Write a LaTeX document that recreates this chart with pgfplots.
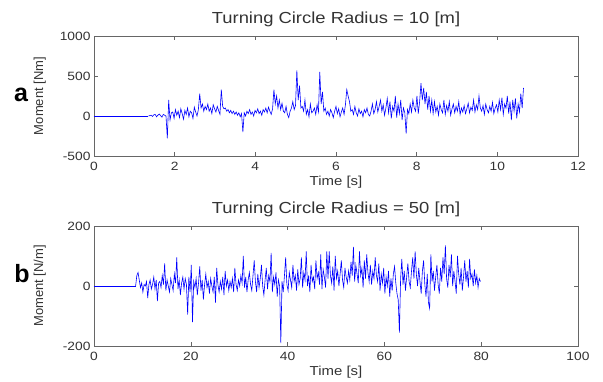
\documentclass[border=0pt]{standalone}
\usepackage{fontspec}
\setmainfont[FakeStretch=1.15]{Liberation Sans}
\newfontfamily\plainfont{Liberation Sans}
\usepackage{pgfplots}
\usepackage{pgfplotstable}
\pgfplotsset{compat=1.18}

\pgfplotstableread[row sep=\\,header=false]{
0\\5\\10\\-5\\15\\20\\-10\\10\\25\\5\\-15\\20\\10\\0\\
-280\\200\\-50\\40\\
50\\-30\\80\\10\\60\\-20\\90\\30\\-40\\70\\20\\100\\-10\\60\\40\\-30\\110\\50\\0\\80\\
280\\100\\150\\60\\
120\\80\\150\\60\\100\\30\\140\\90\\50\\120\\70\\20\\
330\\120\\90\\
100\\60\\80\\40\\70\\30\\60\\20\\50\\10\\40\\-10\\30\\
-200\\40\\0\\
60\\30\\80\\20\\50\\0\\70\\40\\90\\30\\60\\10\\80\\50\\100\\40\\110\\60\\20\\90\\
330\\150\\250\\100\\
200\\80\\160\\60\\40\\120\\20\\-20\\60\\100\\180\\80\\130\\
570\\200\\380\\100\\
120\\60\\200\\20\\80\\-10\\150\\40\\60\\100\\20\\140\\50\\
550\\150\\300\\60\\
100\\20\\60\\0\\80\\40\\-20\\60\\120\\30\\90\\-10\\50\\100\\20\\140\\
330\\250\\180\\60\\
80\\20\\120\\40\\0\\90\\30\\60\\-10\\80\\40\\100\\20\\0\\60\\150\\30\\80\\180\\50\\120\\200\\60\\140\\10\\
100\\220\\40\\180\\-30\\120\\60\\250\\-20\\150\\30\\200\\-50\\100\\40\\
-220\\80\\30\\
150\\50\\200\\100\\60\\250\\30\\180\\
410\\200\\350\\150\\
300\\80\\250\\60\\200\\30\\180\\50\\120\\10\\150\\80\\40\\200\\20\\130\\60\\180\\10\\90\\
150\\40\\120\\60\\180\\20\\100\\50\\130\\30\\90\\160\\40\\110\\70\\200\\50\\140\\80\\250\\100\\60\\130\\20\\150\\80\\40\\120\\60\\170\\30\\100\\140\\50\\200\\
80\\230\\20\\150\\100\\250\\30\\180\\-50\\200\\60\\220\\-30\\150\\50\\280\\100\\350\\
}\topdata

\pgfplotstableread[row sep=\\,header=false]{
0\\35\\45\\20\\
-5\\10\\-20\\5\\0\\15\\-40\\5\\
20\\-10\\5\\30\\-10\\20\\-50\\10\\
15\\-5\\35\\5\\75\\-15\\20\\0\\
-20\\25\\5\\-15\\40\\10\\95\\-10\\
20\\-30\\10\\30\\
-10\\25\\5\\-95\\30\\-20\\70\\-120\\
15\\-5\\25\\-30\\10\\65\\-15\\20\\
-45\\5\\40\\-5\\15\\-25\\25\\0\\
-20\\30\\-55\\60\\5\\-20\\15\\-10\\
30\\-30\\50\\0\\20\\-15\\15\\-5\\
25\\-20\\60\\5\\-15\\20\\0\\35\\
10\\100\\-5\\30\\-20\\20\\45\\5\\
-15\\35\\85\\15\\-20\\40\\-5\\25\\
70\\0\\-30\\20\\60\\-10\\35\\15\\
110\\-20\\30\\5\\45\\-35\\20\\0\\
-190\\15\\-20\\35\\95\\5\\-15\\45\\
20\\-5\\70\\15\\35\\-15\\55\\5\\
25\\95\\-5\\45\\20\\115\\0\\35\\
-20\\70\\15\\30\\-10\\85\\25\\45\\
5\\105\\-10\\55\\30\\-5\\115\\25\\
115\\35\\10\\65\\-15\\100\\25\\50\\
0\\40\\85\\20\\-5\\60\\30\\10\\
50\\20\\80\\35\\130\\15\\70\\40\\
10\\115\\35\\60\\-5\\85\\25\\105\\
45\\15\\70\\5\\50\\25\\95\\35\\
15\\75\\-15\\40\\10\\60\\-25\\30\\
0\\50\\-35\\25\\-15\\40\\65\\10\\
-25\\-45\\-155\\25\\90\\5\\50\\-15\\
30\\75\\15\\-5\\50\\95\\25\\115\\
40\\0\\60\\15\\-25\\50\\85\\5\\
-35\\40\\-55\\-75\\105\\15\\50\\-15\\
30\\70\\5\\-25\\60\\15\\95\\40\\
135\\25\\-5\\70\\30\\105\\0\\50\\
15\\-25\\100\\40\\5\\60\\-15\\30\\
85\\15\\50\\-5\\90\\25\\40\\0\\
55\\10\\35\\-5\\25\\15\\
}\botdata

\pgfplotsset{
  mstyle/.style={
    scale only axis, width=484pt, height=120pt, anchor=south west,
    axis line style={black!60}, tick style={black!60, line width=0.4pt},
    major tick length=4pt, tick align=inside,
    ticklabel style={font=\fontsize{12}{12}\selectfont, text=black!80},
    /pgf/number format/assume math mode=true,
    /pgf/number format/1000 sep={},
    scaled ticks=false,
    xticklabel style={anchor=center, yshift=-10pt},
    xlabel style={font=\fontsize{13}{13}\selectfont, text=black!80, at={(axis description cs:0.5,0)}, anchor=center, yshift=-26pt},
    ylabel style={font=\plainfont\fontsize{13}{13}\selectfont, text=black!80, at={(axis description cs:-0.112,0.5)}, anchor=center},
    title style={font=\fontsize{16}{16}\selectfont, text=black!80, at={(0.5,1)}, anchor=south},
  },
  sig/.style={blue, line width=0.6pt, mark=none},
}

\begin{document}
\begin{tikzpicture}[x=1pt,y=1pt]
\path[use as bounding box] (0,0) rectangle (603,381);
\begin{axis}[mstyle, at={(94pt,225pt)},
  xmin=0, xmax=12, ymin=-500, ymax=1000,
  xtick={0,2,...,12}, ytick={-500,0,500,1000},
  title={Turning Circle Radius = 10 [m]}, title style={yshift=0pt},
  xlabel={Time [s]}, ylabel={Moment [Nm]}]
\addplot[sig] coordinates {(0,0) (1.35,0)};
\addplot[sig] table[x expr=1.35+\coordindex*0.03345, y index=0] {\topdata};
\end{axis}
\begin{axis}[mstyle, at={(94pt,35pt)},
  xmin=0, xmax=100, ymin=-200, ymax=200,
  xtick={0,20,...,100}, ytick={-200,0,200},
  title={Turning Circle Radius = 50 [m]}, title style={yshift=0pt},
  xlabel={Time [s]}, ylabel={Moment [N/m]}]
\addplot[sig] coordinates {(0,0) (8.6,0)};
\addplot[sig] table[x expr=8.6+\coordindex*0.25, y index=0] {\botdata};
\end{axis}
\node[font=\plainfont\bfseries\fontsize{25}{25}\selectfont, anchor=center] at (21,286) {a};
\node[font=\plainfont\bfseries\fontsize{25}{25}\selectfont, anchor=center] at (22,107) {b};
\end{tikzpicture}
\end{document}
